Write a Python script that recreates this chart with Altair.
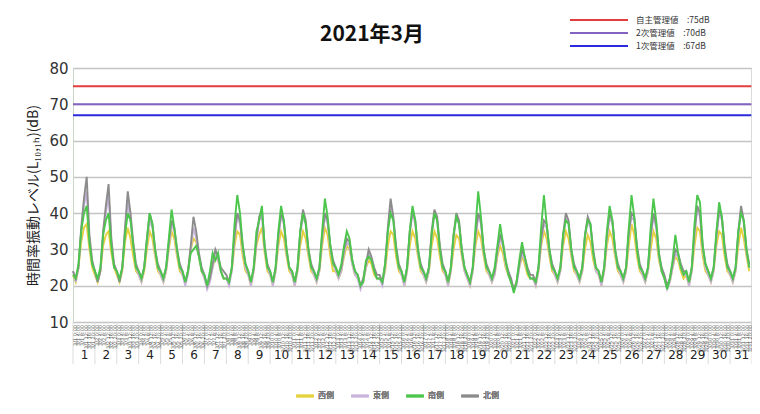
import altair as alt
import pandas as pd

# ---------------- data ----------------
days = list(range(1, 32))
hours = [0, 3, 6, 9, 12, 15, 18, 21]
series_names = ["西側", "東側", "南側", "北側"]
series_colors = ["#e6d23c", "#c9b4dc", "#4cc64c", "#8c8c8c"]

west = [
    23,21,25,32,36,37,30,25, 23,21,24,31,34,35,29,25, 23,21,24,32,36,33,28,24,
    23,21,24,30,35,33,28,24, 23,21,24,30,35,33,28,24, 23,21,24,30,33,32,28,24,
    22,20,22,25,28,27,24,22, 22,21,24,31,35,34,28,24, 23,20,24,31,34,36,29,24,
    23,20,24,31,35,33,28,24, 23,20,24,31,35,33,28,24, 23,21,24,31,36,34,28,24,
    24,22,24,28,31,30,26,23, 22,20,21,25,27,26,23,22, 22,21,24,31,35,34,28,24,
    23,20,24,31,35,33,28,24, 23,21,24,31,35,33,28,24, 23,20,24,30,34,33,28,24,
    22,20,24,31,35,33,28,24, 23,21,23,28,31,29,25,23, 21,19,21,25,28,26,23,22,
    22,20,24,31,35,33,28,24, 23,21,24,31,35,33,28,24, 23,21,24,30,34,32,27,24,
    23,20,24,31,35,33,28,24, 23,21,24,31,37,34,28,24, 23,21,24,30,35,33,27,24,
    22,20,21,25,28,27,24,22, 23,20,24,31,36,35,28,24, 23,21,24,31,35,34,28,24,
    23,21,24,31,36,33,28,24,
]
east = [
    24,21,25,35,42,46,32,26, 24,21,24,34,40,45,32,25, 24,21,25,35,43,38,31,25,
    23,21,25,32,38,36,29,25, 23,21,24,31,37,35,29,25, 23,20,23,30,36,33,28,24,
    22,19,21,25,29,27,24,22, 22,20,24,33,39,37,30,25, 23,20,24,32,38,39,30,25,
    23,20,24,33,39,37,29,25, 23,20,24,34,39,37,29,25, 23,21,24,33,39,37,30,26,
    24,22,24,29,32,31,26,23, 22,19,21,25,29,27,24,22, 22,20,25,35,42,38,30,25,
    23,20,24,34,40,37,29,25, 23,21,24,34,40,38,30,25, 23,20,24,33,39,37,29,24,
    22,20,24,33,39,37,29,25, 23,21,23,29,33,31,26,23, 21,19,20,25,29,27,24,22,
    22,20,24,32,37,36,29,25, 23,21,24,33,39,37,29,25, 23,21,24,33,38,36,29,24,
    23,20,24,33,39,37,29,25, 23,21,24,34,39,38,30,25, 23,21,24,33,39,36,28,24,
    22,19,21,25,29,28,25,23, 23,20,24,34,41,39,30,25, 23,21,24,33,40,38,30,25,
    23,21,24,34,41,37,29,25,
]
south = [
    23,22,26,35,40,42,32,26, 24,22,25,34,38,40,31,25, 24,22,25,34,40,38,31,25,
    24,22,25,33,40,37,30,25, 24,22,25,33,41,36,30,25, 24,21,24,29,30,31,28,24,
    23,20,24,29,27,29,24,22, 22,21,25,37,45,40,31,26, 24,21,25,35,38,42,31,25,
    24,21,25,35,42,38,30,25, 24,21,25,35,40,37,30,25, 24,22,25,35,44,39,31,26,
    25,23,26,31,35,33,27,24, 23,20,21,27,28,27,24,22, 22,21,26,35,40,38,30,25,
    24,21,25,35,42,38,30,25, 24,22,25,34,40,38,30,25, 24,21,25,34,39,37,30,25,
    23,21,25,36,46,39,30,25, 24,22,25,31,37,32,27,23, 21,18,21,27,32,28,24,22,
    22,21,25,36,45,37,30,25, 24,22,25,34,38,37,30,25, 24,22,25,34,38,37,29,25,
    24,21,25,35,42,38,30,25, 24,22,25,36,45,39,30,25, 24,22,25,36,44,38,29,24,
    22,19,22,27,34,29,25,23, 24,21,25,37,45,43,31,26, 24,22,25,35,43,39,30,25,
    24,22,25,35,40,38,30,25,
]
north = [
    24,22,25,36,44,50,34,27, 24,21,24,35,42,48,33,26, 24,21,25,36,46,40,32,26,
    24,22,25,33,40,37,30,26, 24,22,25,32,38,36,30,26, 24,21,24,31,39,35,29,25,
    23,20,22,26,30,28,25,24, 23,21,25,34,40,38,31,26, 24,21,25,33,39,41,31,26,
    24,21,25,34,40,38,30,25, 24,21,25,35,41,38,30,26, 24,22,25,34,40,38,31,27,
    25,23,25,30,33,32,27,24, 23,20,22,26,30,28,25,23, 23,21,26,36,44,39,31,26,
    24,21,25,35,41,38,30,26, 24,22,25,35,41,39,31,26, 24,21,25,34,40,38,30,25,
    23,21,25,34,40,38,30,26, 24,22,24,30,34,32,27,24, 22,19,21,26,30,28,25,23,
    23,21,25,33,38,37,30,26, 24,22,25,34,40,38,30,26, 24,22,25,34,39,37,30,25,
    24,21,25,34,40,38,30,26, 24,22,25,35,40,39,31,26, 24,22,25,34,40,37,29,25,
    23,20,22,26,30,29,26,24, 24,21,25,35,42,40,31,26, 24,22,25,34,41,39,31,26,
    24,22,25,35,42,38,30,26,
]

limit_names = ["自主管理値", "2次管理値", "1次管理値"]
limit_values = [75, 70, 67]
limit_colors = ["#e23c3c", "#8462c2", "#2a2ade"]

y_ticks = [10, 20, 30, 40, 50, 60, 70, 80]
title_text = "2021年3月"
y_title = "時間率振動レベル(L₁₀,₁ₕ)(dB)"

# ---------------- tables ----------------
rows = []
for name, vals in zip(series_names, [west, east, south, north]):
    for i, v in enumerate(vals):
        d = i // len(hours)
        h = hours[i % len(hours)]
        rows.append({"site": name, "t": d * 24 + h, "v": v})
df = pd.DataFrame(rows)

df_lim = pd.DataFrame({"name": limit_names, "v": limit_values,
                       "label": [f"{n}　:{v}dB" for n, v in zip(limit_names, limit_values)]})
df_days = pd.DataFrame({"t": [(d - 1) * 24 for d in days] + [744]})
df_tiny = pd.DataFrame([{"t": (d - 1) * 24 + h + 2, "lab": f"3/{d} {h}:00"}
                        for d in days for h in range(0, 24, 4)])
df_title = pd.DataFrame({"text": [title_text]})

W, H = 679, 254
FONT = "DejaVu Sans"
JP = "Noto Sans CJK JP"

xscale = alt.Scale(domain=[0, 744], nice=False, zero=False)
yscale = alt.Scale(domain=[10, 80], nice=False, zero=False)

x_axis = alt.Axis(values=[(d - 1) * 24 + 12 for d in days],
                  labelExpr="format((datum.value - 12) / 24 + 1, 'd')",
                  title=None, grid=False, ticks=False, domain=False,
                  labelPadding=27, labelFontSize=12, labelFont=FONT,
                  labelColor="#222", labelOverlap=False)
y_axis = alt.Axis(values=y_ticks, title=y_title, grid=True,
                  gridColor="#c4c4c4", gridWidth=1.5, ticks=False,
                  domainColor="#c8d8c8", labelFontSize=15, labelFont=FONT,
                  labelColor="#333", labelPadding=5, labelOverlap=False,
                  titleFont=JP, titleFontSize=14, titleFontWeight="normal",
                  titleColor="#222", titleAngle=270, titleX=-40, titleY=H / 2,
                  titleAlign="center", titleBaseline="middle")

X = alt.X("t:Q", scale=xscale, axis=x_axis)

# threshold lines
limits = alt.Chart(df_lim).mark_rule(strokeWidth=2).encode(
    x=alt.value(0), x2=alt.value(W),
    y=alt.Y("v:Q", scale=yscale, axis=y_axis),
    stroke=alt.Stroke("name:N", scale=alt.Scale(domain=limit_names, range=limit_colors),
                      legend=None),
)

color_scale = alt.Scale(domain=series_names, range=series_colors)
series_legend = alt.Legend(title=None, orient="none", direction="horizontal",
                           legendX=222, legendY=318,
                           symbolType="stroke", symbolSize=300,
                           symbolStrokeWidth=2.5, labelFontSize=8,
                           labelFont=JP, labelFontWeight="normal", labelColor="#777",
                           columnPadding=12, labelOffset=3)
draw_order = ["西側", "東側", "北側", "南側"]
line_layers = []
for name in draw_order:
    lyr = alt.Chart(df).transform_filter(alt.datum.site == name).mark_line(
        strokeWidth=1.9).encode(
        x=X,
        y=alt.Y("v:Q", scale=yscale, axis=y_axis),
        color=alt.Color("site:N", scale=color_scale, legend=series_legend),
    )
    line_layers.append(lyr)

# day separators below plot
seps = alt.Chart(df_days).mark_rule(color="#dcdcdc", strokeWidth=1).encode(
    x=X, y=alt.value(H), y2=alt.value(H + 42))

right_border = alt.Chart(pd.DataFrame({"t": [744]})).mark_rule(
    color="#cfcfcf", strokeWidth=1.5).encode(
    x=X, y=alt.value(0), y2=alt.value(H + 20))

tiny = alt.Chart(df_tiny).mark_text(angle=270, align="right", baseline="middle",
                                    fontSize=5, color="#555", font=FONT).encode(
    x=X, y=alt.value(H + 3), text="lab:N")

title = alt.Chart(df_title).mark_text(fontSize=21, font=JP, fontWeight="bold",
                                      color="#111", align="center",
                                      baseline="middle").encode(
    x=alt.value(299), y=alt.value(-33), text="text:N")

# manual threshold legend (top right)
leg_layers = []
for i, (n, c) in enumerate(zip(limit_names, limit_colors)):
    sub = df_lim[df_lim.name == n]
    yy = -48 + 13 * i
    leg_layers.append(alt.Chart(sub).mark_rule(color=c, strokeWidth=2).encode(
        x=alt.value(497), x2=alt.value(555), y=alt.value(yy)))
    leg_layers.append(alt.Chart(sub).mark_text(align="left", baseline="middle",
                                               fontSize=8.5, font=JP, color="#333").encode(
        x=alt.value(563), y=alt.value(yy), text="label:N"))

chart = alt.layer(limits, *line_layers, seps, right_border, tiny, title,
                  *leg_layers).resolve_scale(
    color="independent", stroke="independent"
).properties(
    width=W, height=H,
    autosize=alt.AutoSizeParams(type="none"),
    padding={"left": 65, "top": 60, "right": 0, "bottom": 84},
).configure_view(stroke=None).configure(background="white")

chart.save("out.html", embed_options={"renderer": "svg", "actions": False})
